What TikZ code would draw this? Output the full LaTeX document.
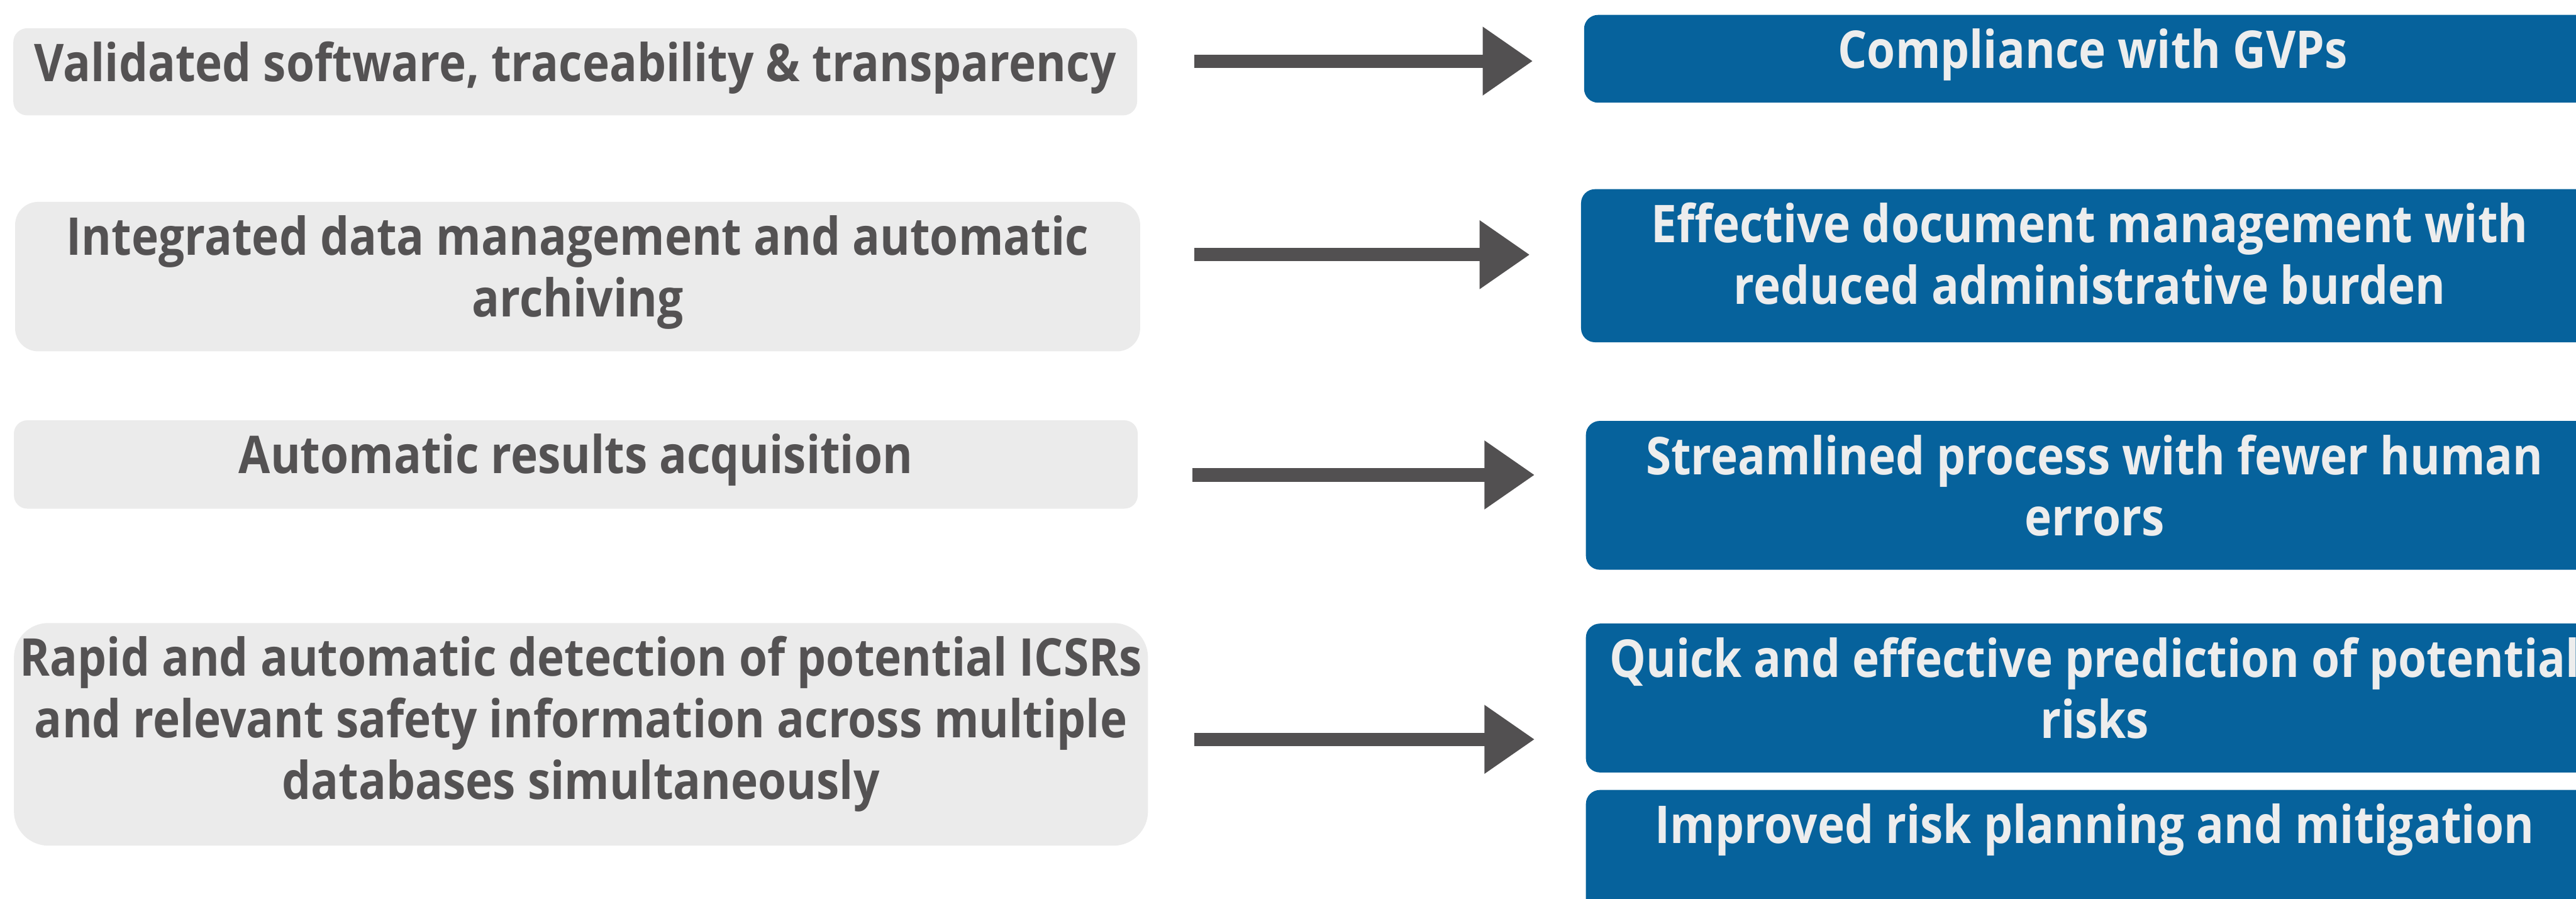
\documentclass[tikz,border=0pt]{standalone}
\usepackage{fontspec}
\setmainfont{Open Sans}[FakeStretch=0.88]
\usetikzlibrary{arrows.meta}

\definecolor{boxgray}{HTML}{EBEBEB}
\definecolor{txtgray}{HTML}{545253}
\definecolor{arrgray}{HTML}{525051}
\definecolor{boxblue}{HTML}{06629C}
\definecolor{txtwhite}{HTML}{EDEDED}

\begin{document}
\begin{tikzpicture}[
		cause/.style={shape=rectangle, anchor=north, fill=boxgray, text=txtgray, align=center, inner sep=0pt, text height=0.88cm, font=\bfseries\fontsize{24.5}{28.9}\selectfont},
		effect/.style={shape=rectangle, anchor=north, fill=boxblue, text=txtwhite, align=center, inner sep=0pt, text height=0.88cm, minimum width=16.82cm, rounded corners=0.23cm, font=\bfseries\fontsize{24.5}{28.9}\selectfont},
		bigarrow/.style={draw=arrgray, line width=0.22cm, -{Triangle[length=0.83cm, width=1.08cm]}, shorten >=0.84cm}
	]
			\useasboundingbox (0, 0) rectangle (42.59, 14.85);
			\clip (0, 0) rectangle (42.59, 14.85);
			% left column: what the system does (placed by top edge,
			% text height counts down to the last line)
			\node[cause, minimum width=18.58cm, text depth=0.56cm, rounded corners=0.23cm](L1) at (9.51, 14.39){Validated software, traceability \& transparency};
			\node[cause, minimum width=18.60cm, text height=1.90cm, text depth=0.57cm, rounded corners=0.38cm](L2) at (9.55, 11.52){Integrated data management and automatic\\archiving};
			\node[cause, minimum width=18.58cm, text depth=0.58cm, rounded corners=0.22cm](L3) at (9.52, 7.91){Automatic results acquisition};
			\node[cause, minimum width=18.75cm, text height=2.91cm, text depth=0.77cm, rounded corners=0.57cm](L4) at (9.605, 4.56){Rapid and automatic detection of potential ICSRs\\and relevant safety information across multiple\\databases simultaneously};
			% right column: what it brings
			\node[effect, text depth=0.57cm](R1) at (34.60, 14.61){Compliance with GVPs};
			\node[effect, text height=1.90cm, text depth=0.63cm](R2) at (34.55, 11.73){Effective document management with\\reduced administrative burden};
			\node[effect, text height=1.90cm, text depth=0.56cm](R3) at (34.63, 7.90){Streamlined process with fewer human\\errors};
			\node[effect, text height=1.90cm, text depth=0.56cm](R4) at (34.63, 4.55){Quick and effective prediction of potential\\risks};
			\node[effect, text depth=1.58cm](R5) at (34.63, 1.80){Improved risk planning and mitigation};
			% arrows
			\coordinate (A1) at (19.75, 13.84);
			\coordinate (A2) at (19.75, 10.64);
			\coordinate (A3) at (19.71, 7.00);
			\coordinate (A4) at (19.75, 2.63);
			\draw[bigarrow] (A1) -- (A1 -| R1.west);
			\draw[bigarrow] (A2) -- (A2 -| R2.west);
			\draw[bigarrow] (A3) -- (A3 -| R3.west);
			\draw[bigarrow] (A4) -- (A4 -| R4.west);
		\end{tikzpicture}
\end{document}
